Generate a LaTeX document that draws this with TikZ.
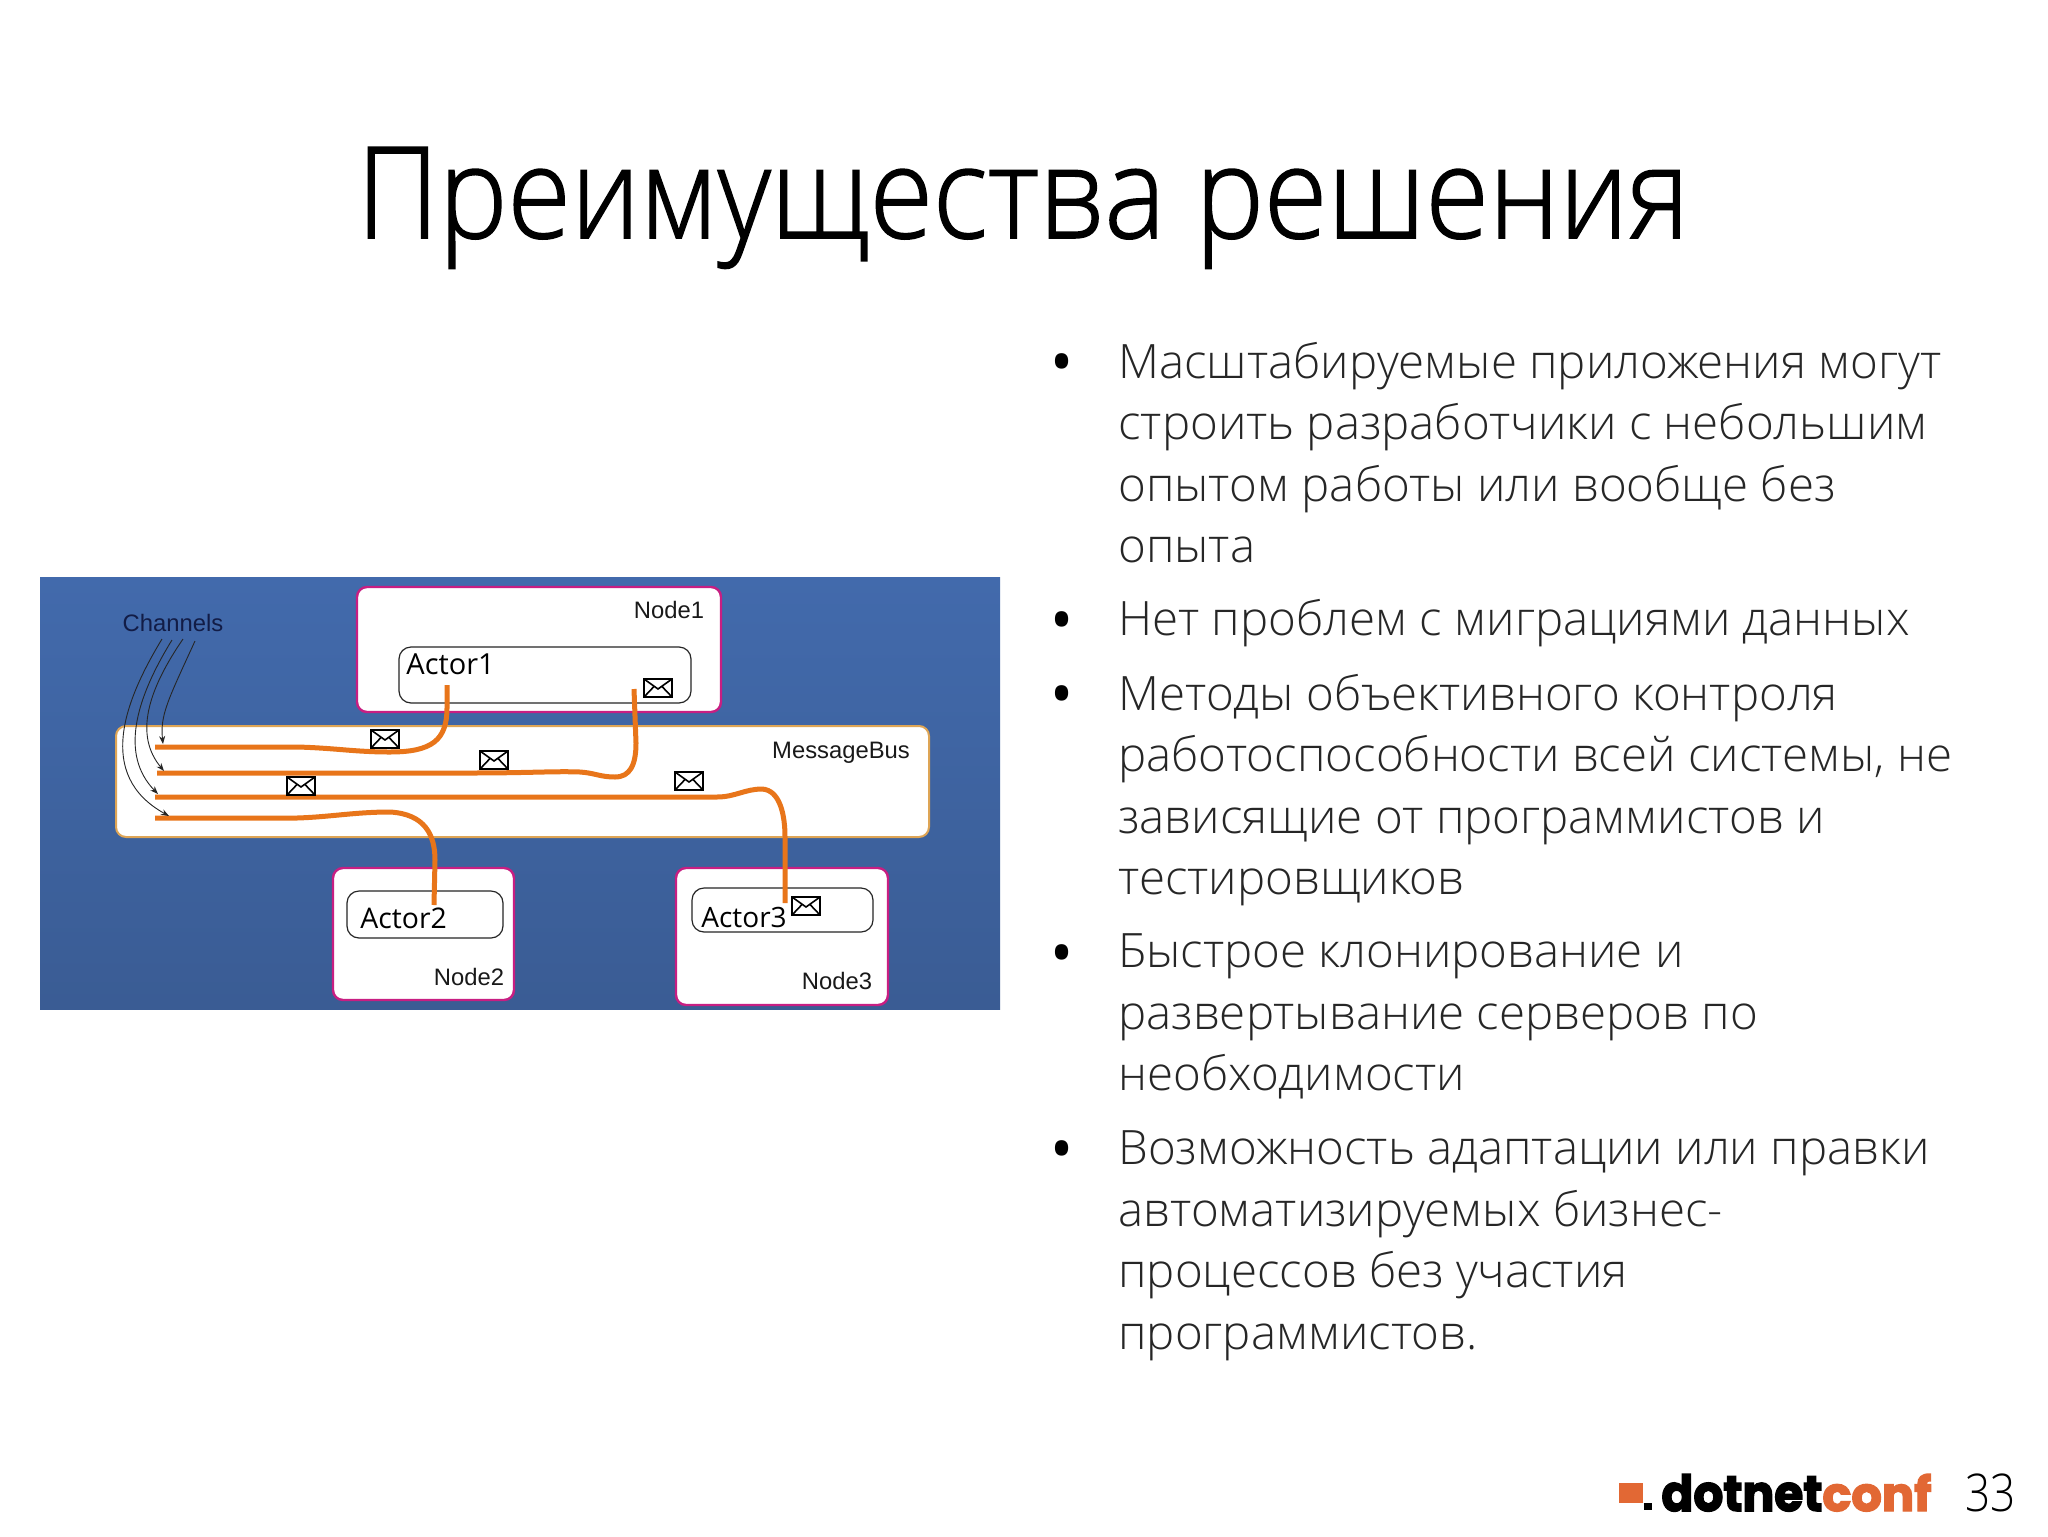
\documentclass[tikz,border=0pt]{standalone}
\usepackage{fontspec}
\usepackage{graphicx}
\setmainfont{Open Sans}[UprightFont={* Light}]
\newfontfamily\titlefont[UprightFont={* Light},FakeStretch=0.905,FakeBold=1.2]{Open Sans}
\newfontfamily\diagfont{Liberation Sans}
\newfontfamily\actorfont{Open Sans}
\newfontfamily\logofont[BoldFeatures={FakeBold=3}]{Poppins}
\usetikzlibrary{arrows.meta}
\definecolor{bluetop}{RGB}{66,106,172}
\definecolor{bluebot}{RGB}{58,92,148}
\definecolor{nodeborder}{RGB}{200,30,130}
\definecolor{busborder}{RGB}{222,165,85}
\definecolor{wire}{RGB}{232,117,26}
\definecolor{logoorange}{RGB}{226,104,52}
\definecolor{chantext}{RGB}{18,28,70}
\tikzset{
  nodebox/.style={draw=nodeborder,fill=white,line width=1.2pt,rounded corners=5pt,inner sep=0pt},
  busbox/.style={draw=busborder,fill=white,line width=1pt,rounded corners=5pt,inner sep=0pt},
  actorbox/.style={draw=black!85,fill=white,line width=0.6pt,rounded corners=6pt,inner sep=0pt},
  wireline/.style={draw=wire,line width=2.5pt},
  chanarrow/.style={draw=black!85,line width=0.45pt,-{Stealth[length=4pt,width=3pt]}},
  smalllabel/.style={font=\diagfont\fontsize{11.9}{14}\selectfont,text=black!90,inner sep=0pt},
  actorlabel/.style={font=\actorfont\fontsize{14.5}{17}\selectfont,text=black,inner sep=0pt,anchor=base west},
  bullettext/.style={anchor=north west,inner sep=0pt,align=left,text=black!85,
    font=\fontsize{23.7}{30.75}\selectfont},
  bulletmark/.style={anchor=center,inner sep=0pt,font=\fontsize{44}{46}\selectfont,text=black},
  env/.pic={
    \draw[black,line width=1.1pt,fill=white] (0,0) rectangle (28,18);
    \draw[black,line width=0.8pt] (0,0) -- (14,10) -- (28,0) (0,18) -- (10,7.5) (28,18) -- (18,7.5);
  }
}
\begin{document}
\begin{tikzpicture}[x=0.5pt,y=-0.5pt]
\useasboundingbox (0,0) rectangle (2048,1536);
\fill[white] (0,0) rectangle (2048,1536);
% title
\node[anchor=base,inner sep=0pt,text=black,font=\titlefont\fontsize{63.7}{66}\selectfont] (title) at (1023,238) {Преимущества решения};
% diagram background
\shade[top color=bluetop,bottom color=bluebot] (40,577) rectangle (1000,1009);
\node[nodebox,minimum width=182pt,minimum height=62.5pt] (node1) at (539,649.5) {};
\node[busbox,minimum width=406.5pt,minimum height=55.5pt] (bus) at (522.5,781.5) {};
\node[nodebox,minimum width=90.5pt,minimum height=66pt] (node2) at (423.5,934) {};
\node[nodebox,minimum width=106pt,minimum height=68.5pt] (node3) at (782,936.5) {};
\node[actorbox,minimum width=146pt,minimum height=28pt] (actor1) at (545,675) {};
\node[actorbox,minimum width=78pt,minimum height=23.5pt] (actor2) at (425,914.5) {};
\node[actorbox,minimum width=90.5pt,minimum height=22pt] (actor3) at (782.5,910) {};
% texts
\node[actorlabel] (a1t) at (406,674) {Actor1};
\node[actorlabel,font=\actorfont\fontsize{14.2}{17}\selectfont] (a2t) at (360,928) {Actor2};
\node[actorlabel,font=\actorfont\fontsize{14}{17}\selectfont] (a3t) at (701,927) {Actor3};
\node[smalllabel] (n1t) at (669,610) {Node1};
\node[smalllabel] (n2t) at (469,977) {Node2};
\node[smalllabel] (n3t) at (837,981) {Node3};
\node[smalllabel] (bust) at (841,753) {MessageBus};
\node[smalllabel,text=chantext] (chan) at (173,623) {Channels};
% wire ends
\coordinate (w1s) at (155,747);
\coordinate (w1e) at (447,685);
\coordinate (w2s) at (157,773);
\coordinate (w2e) at (634,689);
\coordinate (w3s) at (155,797);
\coordinate (w3e) at (785,903);
\coordinate (w4s) at (155,818);
\coordinate (w4e) at (434,905);
\path[wireline] (w1s) -- (297,747) .. controls (335,748) and (355,752) .. (390,752) .. controls (432,752) and (447,740) .. (447,708) -- (w1e);
\path[wireline] (w2s) -- (470,773) .. controls (530,773) and (555,771) .. (580,772) .. controls (595,773) and (600,777) .. (615,777) .. controls (630,777) and (636,765) .. (636,743) -- (w2e);
\path[wireline] (w3s) -- (717,797) .. controls (735,797) and (745,789) .. (762,789) .. controls (780,790) and (785,815) .. (785,837) -- (w3e);
\path[wireline] (w4s) -- (297,818) .. controls (330,817) and (355,812) .. (390,812) .. controls (425,814) and (435,835) .. (435,860) -- (w4e);
% channel arrows
\coordinate (c1) at (162,639); \coordinate (c2) at (172,640); \coordinate (c3) at (183,639); \coordinate (c4) at (195,641);
\coordinate (t1) at (169,816); \coordinate (t2) at (158,794); \coordinate (t3) at (164,771); \coordinate (t4) at (163,744);
\draw[chanarrow] (c1) .. controls (125,700) and (95,775) .. (t1);
\draw[chanarrow] (c2) .. controls (135,700) and (120,755) .. (t2);
\draw[chanarrow] (c3) .. controls (148,690) and (134,735) .. (t3);
\draw[chanarrow] (c4) .. controls (168,700) and (160,715) .. (t4);
% envelopes
\pic at (371,730) {env};
\pic at (480,751) {env};
\pic at (287,777) {env};
\pic at (644,679) {env};
\pic at (675,772) {env};
\pic at (792,897) {env};
% bullets
\node[bulletmark] (b1) at (1062,373.5) {•};
\node[bulletmark] (b2) at (1062,631.5) {•};
\node[bulletmark] (b3) at (1062,705.5) {•};
\node[bulletmark] (b4) at (1062,964.5) {•};
\node[bulletmark] (b5) at (1062,1160.5) {•};
\node[bullettext] (t-1) at (1118,341.8) {Масштабируемые приложения могут\\строить разработчики с небольшим\\опытом работы или вообще без\\опыта};
\node[bullettext] (t-2) at (1118,599.1) {Нет проблем с миграциями данных};
\node[bullettext] (t-3) at (1118,673.8) {Методы объективного контроля\\работоспособности всей системы, не\\зависящие от программистов и\\тестировщиков};
\node[bullettext] (t-4) at (1118,933.6) {Быстрое клонирование и\\развертывание серверов по\\необходимости};
\node[bullettext] (t-5) at (1118,1130.3) {Возможность адаптации или правки\\автоматизируемых бизнес-\\процессов без участия\\программистов.};
% logo
\fill[logoorange] (1619,1483) rectangle (1643,1503);
\fill[black] (1644,1503) rectangle (1652,1510);
\node[anchor=base west,inner sep=0pt] (dn) at (1661,1511) {\resizebox{80.5pt}{18.5pt}{\logofont\bfseries dotnet}};
\node[anchor=base west,inner sep=0pt,text=logoorange] (cf) at (1822,1511) {\resizebox{54.5pt}{18.5pt}{\logofont\bfseries conf}};
\node[anchor=base west,inner sep=0pt,text=black,font=\fontsize{26}{30}\selectfont] (pg) at (1965,1511) {\scalebox{0.85}[1]{33}};
\end{tikzpicture}
\end{document}
